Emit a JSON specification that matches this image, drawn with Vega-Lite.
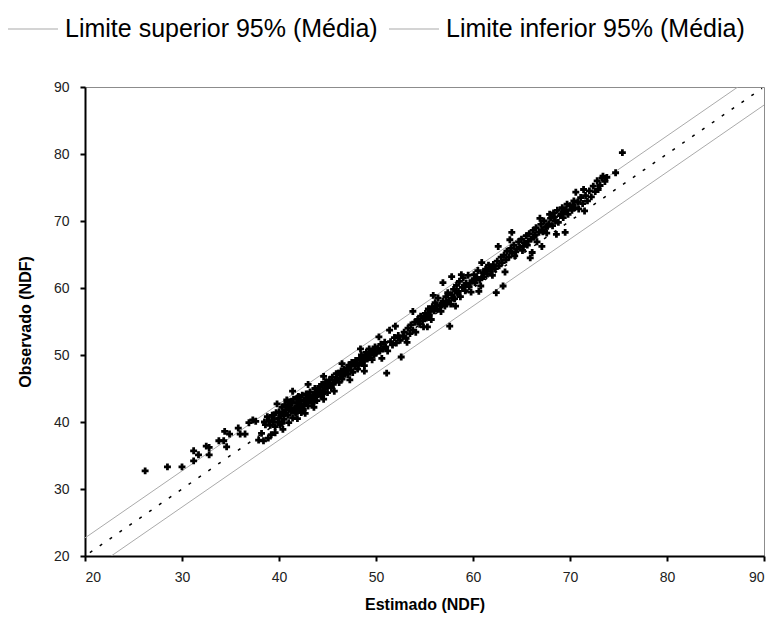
{
  "$schema": "https://vega.github.io/schema/vega-lite/v6.json",
  "width": 679,
  "height": 469,
  "autosize": "none",
  "padding": {"left": 85, "top": 87, "right": 10, "bottom": 74},
  "background": "white",
  "config": {
    "font": "Liberation Sans",
    "view": {"stroke": "#8c8c8c", "strokeWidth": 1},
    "axis": {
      "grid": false,
      "domainColor": "black",
      "domainWidth": 2,
      "tickColor": "black",
      "tickWidth": 2,
      "tickSize": 5,
      "labelFont": "Liberation Sans",
      "labelFontSize": 14,
      "labelColor": "#222222",
      "titleFont": "Liberation Sans",
      "titleFontSize": 16,
      "titleFontWeight": "bold",
      "titleColor": "black"
    }
  },
  "datasets": {
    "limits": [
      {"x": 20, "y": 22.7, "serie": "Limite superior 95% (Média)"},
      {"x": 87.3, "y": 90, "serie": "Limite superior 95% (Média)"},
      {"x": 22.7, "y": 20, "serie": "Limite inferior 95% (Média)"},
      {"x": 90, "y": 87.3, "serie": "Limite inferior 95% (Média)"}
    ],
    "mean": [
      {"x": 20.5, "y": 20.5},
      {"x": 89.8, "y": 89.8}
    ],
    "obs": [
      {"x":26.2,"y":32.7},{"x":28.5,"y":33.3},{"x":30.0,"y":33.3},{"x":31.2,"y":34.2},{"x":31.2,"y":35.7},{"x":31.7,"y":35.1},{"x":32.5,"y":36.4},{"x":32.8,"y":36.2},{"x":32.8,"y":35.1},{"x":33.8,"y":37.2},{"x":34.3,"y":37.2},{"x":34.6,"y":36.3},{"x":34.4,"y":38.6},{"x":34.9,"y":38.2},{"x":35.8,"y":39.1},{"x":36.0,"y":38.2},{"x":36.5,"y":38.2},{"x":36.9,"y":39.9},{"x":37.3,"y":40.3},{"x":37.6,"y":40.1},{"x":37.9,"y":37.3},{"x":38.4,"y":37.2},{"x":38.2,"y":38.3},{"x":38.6,"y":39.6},{"x":38.8,"y":40.8},{"x":39.0,"y":40.2},{"x":39.2,"y":38.1},{"x":39.3,"y":41.0},{"x":39.5,"y":40.5},{"x":39.6,"y":39.3},{"x":39.8,"y":42.7},{"x":39.9,"y":40.0},{"x":40.0,"y":41.5},{"x":40.1,"y":39.6},{"x":40.2,"y":40.9},{"x":40.3,"y":42.2},{"x":40.4,"y":41.3},{"x":40.5,"y":40.4},{"x":40.6,"y":42.6},{"x":40.7,"y":41.8},{"x":40.8,"y":43.3},{"x":40.9,"y":41.0},{"x":41.0,"y":42.4},{"x":41.1,"y":43.0},{"x":41.2,"y":41.6},{"x":41.3,"y":42.8},{"x":41.4,"y":40.6},{"x":41.5,"y":43.4},{"x":41.6,"y":42.1},{"x":41.7,"y":41.3},{"x":41.8,"y":42.9},{"x":41.9,"y":43.6},{"x":42.0,"y":42.3},{"x":42.1,"y":41.7},{"x":42.2,"y":43.1},{"x":42.3,"y":42.6},{"x":42.4,"y":44.0},{"x":42.5,"y":41.9},{"x":42.6,"y":43.3},{"x":42.7,"y":42.7},{"x":42.8,"y":44.2},{"x":42.9,"y":43.0},{"x":43.0,"y":42.4},{"x":43.1,"y":43.8},{"x":43.2,"y":44.5},{"x":43.3,"y":43.2},{"x":43.4,"y":42.8},{"x":43.5,"y":44.1},{"x":43.6,"y":43.6},{"x":43.7,"y":45.0},{"x":43.8,"y":44.3},{"x":43.9,"y":43.2},{"x":44.0,"y":44.7},{"x":44.2,"y":45.3},{"x":44.3,"y":44.0},{"x":44.4,"y":45.6},{"x":44.5,"y":44.6},{"x":44.7,"y":45.0},{"x":44.8,"y":46.0},{"x":44.9,"y":45.3},{"x":45.0,"y":44.4},{"x":45.2,"y":46.3},{"x":45.3,"y":45.8},{"x":45.5,"y":46.7},{"x":45.6,"y":45.6},{"x":45.8,"y":46.2},{"x":45.9,"y":47.2},{"x":46.0,"y":46.5},{"x":46.2,"y":45.9},{"x":46.3,"y":47.0},{"x":46.4,"y":47.6},{"x":46.6,"y":46.8},{"x":46.7,"y":47.9},{"x":46.8,"y":47.3},{"x":47.0,"y":48.0},{"x":47.1,"y":47.1},{"x":47.2,"y":48.5},{"x":47.4,"y":47.8},{"x":47.5,"y":48.9},{"x":47.6,"y":47.4},{"x":47.8,"y":48.4},{"x":47.9,"y":49.2},{"x":48.0,"y":48.7},{"x":48.1,"y":47.9},{"x":48.3,"y":49.5},{"x":48.4,"y":48.8},{"x":48.5,"y":50.0},{"x":48.7,"y":49.2},{"x":48.8,"y":48.4},{"x":48.9,"y":49.8},{"x":49.0,"y":50.4},{"x":49.2,"y":49.6},{"x":49.3,"y":50.9},{"x":49.4,"y":50.1},{"x":49.6,"y":49.3},{"x":49.7,"y":50.6},{"x":49.9,"y":51.2},{"x":50.0,"y":50.3},{"x":50.2,"y":51.0},{"x":50.4,"y":50.6},{"x":50.5,"y":51.6},{"x":50.7,"y":50.9},{"x":50.9,"y":51.9},{"x":51.1,"y":47.3},{"x":51.0,"y":51.2},{"x":51.2,"y":50.6},{"x":51.4,"y":53.7},{"x":51.5,"y":52.0},{"x":51.7,"y":51.5},{"x":51.9,"y":52.6},{"x":52.1,"y":51.8},{"x":52.3,"y":52.9},{"x":52.6,"y":49.7},{"x":52.5,"y":52.2},{"x":52.8,"y":52.8},{"x":52.9,"y":53.4},{"x":53.1,"y":52.5},{"x":53.3,"y":54.0},{"x":53.5,"y":53.2},{"x":53.6,"y":54.5},{"x":53.8,"y":56.5},{"x":53.8,"y":53.7},{"x":54.0,"y":54.9},{"x":54.1,"y":53.4},{"x":54.3,"y":55.3},{"x":54.5,"y":54.6},{"x":54.6,"y":55.8},{"x":54.8,"y":55.1},{"x":54.9,"y":54.2},{"x":55.1,"y":56.2},{"x":55.2,"y":55.5},{"x":55.4,"y":56.9},{"x":55.5,"y":56.0},{"x":55.7,"y":55.3},{"x":55.8,"y":57.2},{"x":56.0,"y":56.6},{"x":56.1,"y":57.8},{"x":56.3,"y":56.9},{"x":56.4,"y":58.5},{"x":56.6,"y":57.4},{"x":56.7,"y":56.5},{"x":56.9,"y":60.8},{"x":56.9,"y":58.0},{"x":57.1,"y":57.3},{"x":57.2,"y":58.7},{"x":57.4,"y":59.3},{"x":57.5,"y":58.1},{"x":57.6,"y":54.3},{"x":57.7,"y":57.6},{"x":57.8,"y":61.7},{"x":57.8,"y":59.0},{"x":58.0,"y":59.8},{"x":58.1,"y":58.4},{"x":58.3,"y":60.4},{"x":58.4,"y":59.2},{"x":58.6,"y":61.0},{"x":58.7,"y":58.7},{"x":58.9,"y":60.1},{"x":59.0,"y":61.5},{"x":59.2,"y":59.6},{"x":59.3,"y":60.7},{"x":59.5,"y":61.9},{"x":59.6,"y":60.2},{"x":59.8,"y":59.4},{"x":59.9,"y":61.1},{"x":60.1,"y":62.0},{"x":60.2,"y":60.8},{"x":60.4,"y":61.6},{"x":60.5,"y":62.6},{"x":60.7,"y":61.2},{"x":60.8,"y":60.3},{"x":61.0,"y":62.3},{"x":61.1,"y":61.7},{"x":61.3,"y":62.8},{"x":61.5,"y":62.1},{"x":61.6,"y":63.4},{"x":61.8,"y":62.6},{"x":62.0,"y":61.9},{"x":62.1,"y":63.5},{"x":62.4,"y":59.3},{"x":62.3,"y":62.9},{"x":62.5,"y":64.0},{"x":62.6,"y":66.2},{"x":62.7,"y":63.3},{"x":62.9,"y":64.6},{"x":63.1,"y":60.3},{"x":63.0,"y":63.8},{"x":63.2,"y":64.9},{"x":63.4,"y":64.2},{"x":63.5,"y":65.5},{"x":63.7,"y":64.6},{"x":63.9,"y":65.9},{"x":64.0,"y":68.3},{"x":64.0,"y":65.2},{"x":64.2,"y":66.4},{"x":64.3,"y":64.8},{"x":64.5,"y":65.8},{"x":64.7,"y":66.9},{"x":64.8,"y":66.1},{"x":65.0,"y":67.3},{"x":65.1,"y":65.6},{"x":65.3,"y":66.7},{"x":65.5,"y":67.8},{"x":65.6,"y":66.4},{"x":65.8,"y":68.1},{"x":65.9,"y":64.5},{"x":66.0,"y":67.3},{"x":66.2,"y":68.6},{"x":66.3,"y":67.6},{"x":66.5,"y":69.0},{"x":66.6,"y":66.9},{"x":66.8,"y":68.3},{"x":67.0,"y":69.5},{"x":67.1,"y":66.2},{"x":67.1,"y":68.7},{"x":67.3,"y":70.0},{"x":67.5,"y":69.1},{"x":67.6,"y":68.2},{"x":67.9,"y":71.0},{"x":67.8,"y":69.6},{"x":68.0,"y":70.4},{"x":68.2,"y":69.3},{"x":68.3,"y":71.2},{"x":68.5,"y":70.0},{"x":68.7,"y":71.6},{"x":68.8,"y":69.8},{"x":69.0,"y":70.8},{"x":69.2,"y":72.0},{"x":69.3,"y":70.5},{"x":69.5,"y":68.3},{"x":69.5,"y":71.4},{"x":69.7,"y":72.5},{"x":69.8,"y":71.0},{"x":70.0,"y":72.3},{"x":70.2,"y":71.6},{"x":70.4,"y":73.0},{"x":70.5,"y":72.0},{"x":70.8,"y":72.8},{"x":70.9,"y":71.8},{"x":71.1,"y":73.5},{"x":71.3,"y":72.6},{"x":71.4,"y":74.7},{"x":71.6,"y":73.8},{"x":71.8,"y":73.0},{"x":72.0,"y":74.5},{"x":72.2,"y":73.6},{"x":72.4,"y":75.2},{"x":72.6,"y":74.4},{"x":72.9,"y":74.7},{"x":72.8,"y":76.0},{"x":73.1,"y":75.3},{"x":73.3,"y":76.4},{"x":73.4,"y":76.7},{"x":73.6,"y":75.9},{"x":73.8,"y":76.5},{"x":74.7,"y":77.2},{"x":75.4,"y":80.2},
      {"x":38.5,"y":40.0},{"x":39.1,"y":39.5},{"x":39.4,"y":40.0},{"x":39.7,"y":41.4},{"x":40.0,"y":40.6},{"x":40.3,"y":39.8},{"x":40.6,"y":41.2},{"x":40.9,"y":42.5},{"x":41.2,"y":42.0},{"x":41.5,"y":41.8},{"x":41.8,"y":41.5},{"x":42.0,"y":43.8},{"x":42.3,"y":41.4},{"x":42.6,"y":42.5},{"x":42.9,"y":43.6},{"x":43.2,"y":43.5},{"x":43.5,"y":43.0},{"x":43.8,"y":43.8},{"x":44.1,"y":44.2},{"x":44.4,"y":43.9},{"x":44.7,"y":44.5},{"x":45.0,"y":45.7},{"x":45.4,"y":45.1},
      {"x":46.1,"y":47.3},{"x":46.5,"y":46.4},{"x":46.9,"y":47.6},{"x":47.3,"y":48.3},{"x":47.7,"y":48.9},{"x":48.2,"y":48.5},{"x":48.6,"y":48.9},{"x":49.1,"y":49.4},{"x":49.5,"y":50.5},{"x":49.8,"y":50.0},
      {"x":55.0,"y":55.6},{"x":55.6,"y":56.5},{"x":56.2,"y":57.3},{"x":56.8,"y":57.5},{"x":57.3,"y":57.9},{"x":57.9,"y":58.5},{"x":58.5,"y":59.5},{"x":59.1,"y":60.3},{"x":59.7,"y":60.7},{"x":60.3,"y":61.3},{"x":60.9,"y":61.6},{"x":61.4,"y":62.6},{"x":61.9,"y":63.1},
      {"x":64.4,"y":65.4},{"x":65.2,"y":66.2},{"x":65.7,"y":67.0},{"x":66.4,"y":67.9},{"x":67.2,"y":68.4},{"x":67.7,"y":69.2},{"x":68.4,"y":70.6},{"x":69.1,"y":71.0},{"x":69.6,"y":71.7},{"x":70.3,"y":72.4},
      {"x":38.9,"y":37.6},{"x":39.6,"y":38.4},{"x":40.4,"y":38.9},{"x":41.0,"y":39.9},{"x":41.9,"y":40.5},{"x":42.7,"y":41.3},{"x":43.6,"y":42.2},{"x":44.6,"y":43.4},{"x":45.7,"y":44.6},{"x":47.3,"y":46.3},{"x":48.8,"y":47.6},{"x":50.6,"y":49.5},{"x":53.2,"y":51.9},{"x":55.3,"y":54.2},{"x":58.2,"y":57.3},{"x":60.6,"y":59.5},{"x":63.3,"y":62.4},{"x":66.1,"y":65.3},{"x":68.6,"y":68.0},{"x":71.5,"y":71.5},
      {"x":41.4,"y":44.6},{"x":43.0,"y":45.6},{"x":44.6,"y":46.8},{"x":46.5,"y":48.7},{"x":48.4,"y":50.9},{"x":50.3,"y":52.7},{"x":52.0,"y":54.3},{"x":55.9,"y":58.9},{"x":58.8,"y":62.0},{"x":60.9,"y":63.8},{"x":63.8,"y":67.2},{"x":66.9,"y":70.4},{"x":70.6,"y":74.3}
    ]
  },
  "layer": [
    {
      "data": {"name": "limits"},
      "mark": {"type": "line", "strokeWidth": 1, "clip": true},
      "encoding": {
        "x": {"field": "x", "type": "quantitative", "scale": {"domain": [20, 90], "nice": false, "zero": false},
              "axis": {"values": [20, 30, 40, 50, 60, 70, 80, 90], "title": "Estimado (NDF)", "titlePadding": 12, "labelPadding": 9}},
        "y": {"field": "y", "type": "quantitative", "scale": {"domain": [20, 90], "nice": false, "zero": false},
              "axis": {"values": [20, 30, 40, 50, 60, 70, 80, 90], "title": "Observado (NDF)", "titlePadding": 20, "labelPadding": 11}},
        "color": {
          "field": "serie", "type": "nominal",
          "scale": {"domain": ["Limite superior 95% (Média)", "Limite inferior 95% (Média)"], "range": ["#aaaaaa", "#aaaaaa"]},
          "legend": {
            "title": null,
            "orient": "none",
            "direction": "horizontal",
            "legendX": -78,
            "legendY": -84,
            "symbolType": "stroke",
            "symbolSize": 2500,
            "symbolStrokeWidth": 1.2,
            "labelFontSize": 25,
            "labelFont": "Liberation Sans",
            "labelColor": "black",
            "labelLimit": 500,
            "labelOffset": 6,
            "columnPadding": 8
          }
        },
        "detail": {"field": "serie"}
      }
    },
    {
      "data": {"name": "mean"},
      "mark": {"type": "line", "color": "black", "strokeWidth": 1.5, "strokeDash": [3, 9]},
      "encoding": {
        "x": {"field": "x", "type": "quantitative"},
        "y": {"field": "y", "type": "quantitative"}
      }
    },
    {
      "data": {"name": "obs"},
      "mark": {"type": "point", "shape": "cross", "filled": true, "color": "black", "size": 48, "opacity": 1},
      "encoding": {
        "x": {"field": "x", "type": "quantitative"},
        "y": {"field": "y", "type": "quantitative"}
      }
    }
  ]
}
